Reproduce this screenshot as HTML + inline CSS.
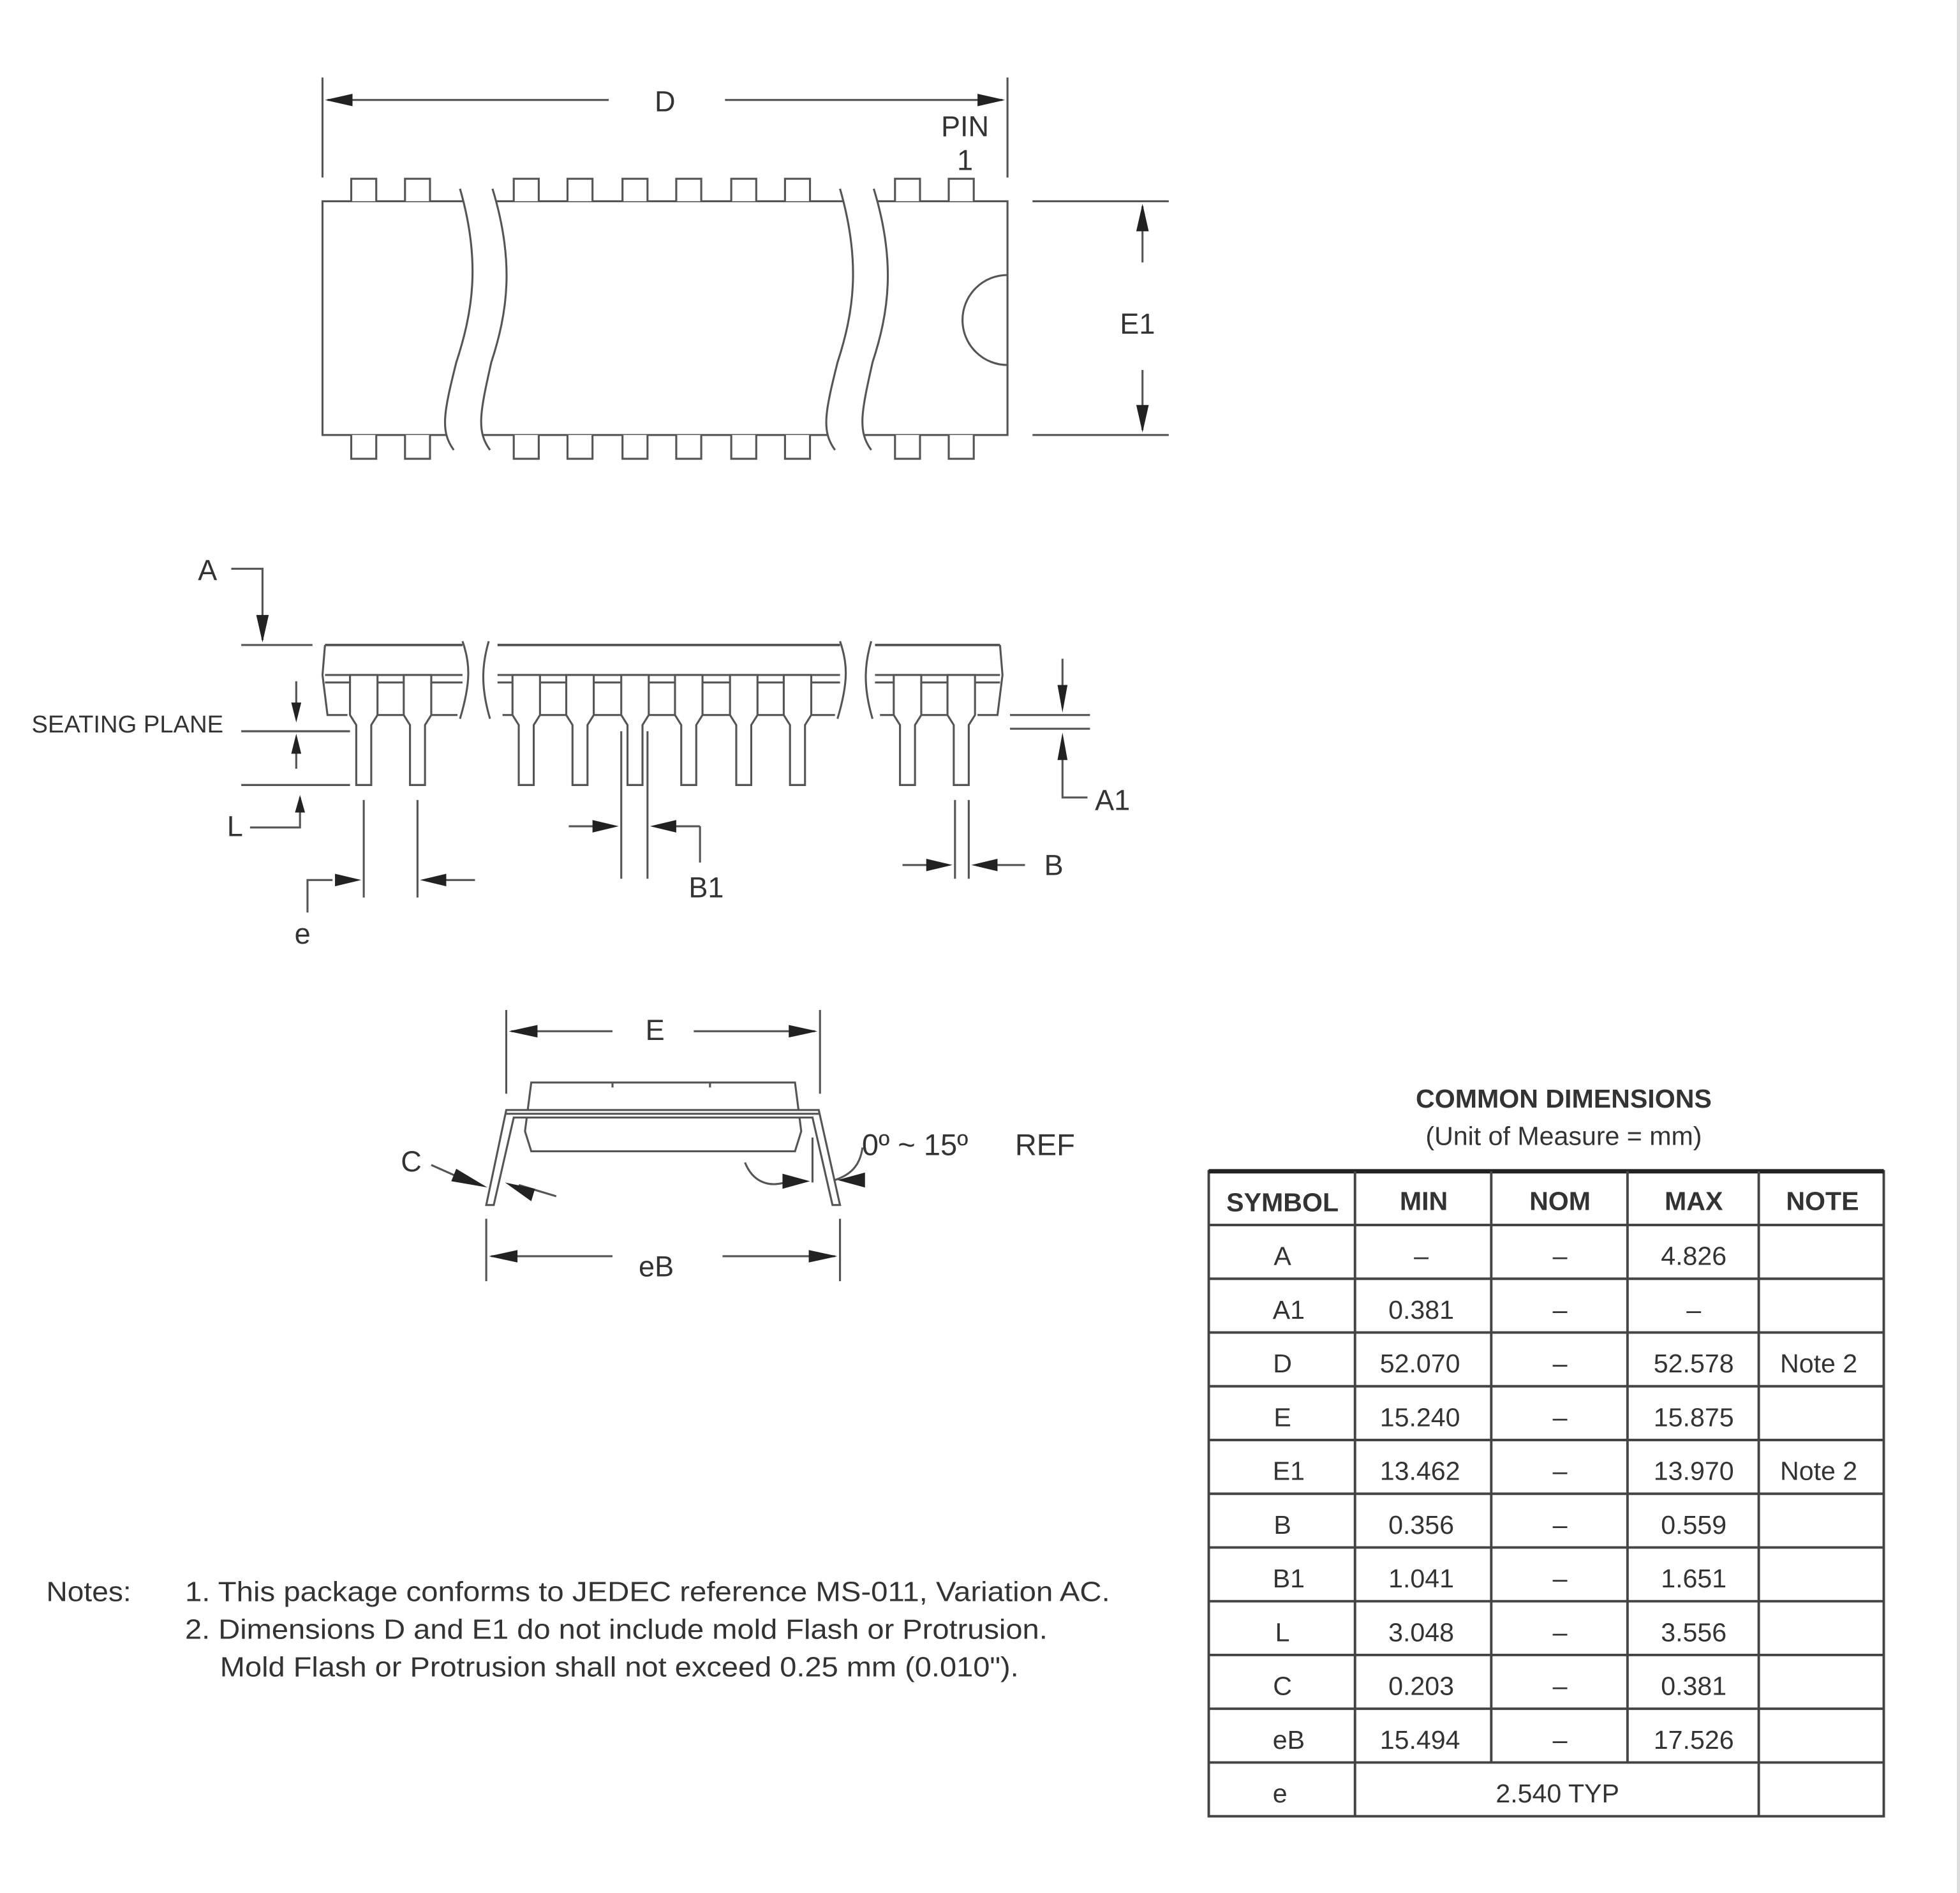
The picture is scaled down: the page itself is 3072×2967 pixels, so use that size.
<!DOCTYPE html>
<html><head><meta charset="utf-8"><style>
html,body{margin:0;padding:0;background:#fff;}
svg{display:block;}
text{font-family:"Liberation Sans",Arial,sans-serif;fill:#333;}
</style></head><body>
<svg width="3072" height="2967" viewBox="0 0 1568 1514.4" xmlns="http://www.w3.org/2000/svg">
<rect x="0" y="0" width="1568" height="1514.4" fill="#fff"/>
<rect x="1565.5" y="0" width="2.5" height="1514.4" fill="#ddd"/>
<g stroke="#555" stroke-width="1.6" fill="none">
<rect x="258" y="161" width="548" height="187" fill="#fff"/>
<g fill="#fff">
<path d="M281 161V143H301V161M324 161V143H344V161M411 161V143H431V161M454 161V143H474V161M498 161V143H518V161M541 161V143H561V161M585 161V143H605V161M628 161V143H648V161M716 161V143H736V161M759 161V143H779V161"/>
<path d="M281 348V367H301V348M324 348V367H344V348M411 348V367H431V348M454 348V367H474V348M498 348V367H518V348M541 348V367H561V348M585 348V367H605V348M628 348V367H648V348M716 348V367H736V348M759 348V367H779V348"/>
</g>
<path d="M368 151 C385 210,378 250,365 290 C355 330,352 345,363 360 L392 360 C381 345,384 330,393 290 C406 250,412 210,394 151 Z" fill="#fff" stroke="none"/>
<path d="M368 151 C385 210,378 250,365 290 C355 330,352 345,363 360"/>
<path d="M394 151 C412 210,406 250,393 290 C384 330,381 345,392 360"/>
<path d="M672 151 C689 210,683 250,670 290 C660 330,657 345,668 360 L697 360 C686 345,689 330,698 290 C711 250,717 210,699 151 Z" fill="#fff" stroke="none"/>
<path d="M672 151 C689 210,683 250,670 290 C660 330,657 345,668 360"/>
<path d="M699 151 C717 210,711 250,698 290 C689 330,686 345,697 360"/>
<path d="M806 220 A36 36 0 0 0 806 292"/>
<path d="M258 62V142M806 62V142M262 80H487M580 80H802"/>
<path d="M826 161H935M826 348H935M914 165V210M914 296V344"/>
<path d="M260 516H370M398 516H672M700 516H800" stroke-width="2"/>
<path d="M260 540H370M398 540H672M700 540H800M260 546H370M398 546H672M700 546H800"/>
<path d="M260 516L258 540L262 572H278M800 516L802 540L798 572H782"/>
<path d="M302 572H323M345 572H366M402 572H410M432 572H453M475 572H497M519 572H540M562 572H584M606 572H627M649 572H668M704 572H715M737 572H758"/>
<path d="M370 513 C376 530,377 545,368 575M391 513 C386 530,384 548,392 575"/>
<path d="M672 513 C678 530,679 545,670 575M697 513 C692 530,690 548,698 575"/>
<g fill="#fff">
<path d="M280 540V572L285 580V628H297V580L302 572V540Z"/>
<path d="M323 540V572L328 580V628H340V580L345 572V540Z"/>
<path d="M410 540V572L415 580V628H427V580L432 572V540Z"/>
<path d="M453 540V572L458 580V628H470V580L475 572V540Z"/>
<path d="M497 540V572L502 580V628H514V580L519 572V540Z"/>
<path d="M540 540V572L545 580V628H557V580L562 572V540Z"/>
<path d="M584 540V572L589 580V628H601V580L606 572V540Z"/>
<path d="M627 540V572L632 580V628H644V580L649 572V540Z"/>
<path d="M715 540V572L720 580V628H732V580L737 572V540Z"/>
<path d="M758 540V572L763 580V628H775V580L780 572V540Z"/>
</g>
<path d="M193 516H250M193 585H280M193 628H280"/>
<path d="M185 455H210V512"/>
<path d="M237 545V574M237 596V615"/>
<path d="M200 662H240V638"/>
<path d="M291 640V718M334 640V718M246 730V704H266M380 704H340"/>
<path d="M497 585V703M518 585V703M455 661H490M560 661V690M560 661H528"/>
<path d="M764 640V703M775 640V703M722 692H758M820 692H781"/>
<path d="M808 572H872M808 583H872M850 527V566M850 592V638H870"/>
<path d="M405 808V875M656 808V875M409 825H490M555 825H652"/>
<path d="M425 866H636L641 905L636 921H425L420 905Z" fill="#fff"/>
<path d="M490 866V870M568 866V870"/>
<path d="M405 888H655L672 964H666L650 894H411L395 964H389Z" fill="#fff"/>
<path d="M405 891H655"/>
<path d="M389 975V1025M672 975V1025M393 1005H490M578 1005H668"/>
<path d="M345 932L372 944M445 957L415 948"/>
<path d="M596 930 C602 945,614 950,628 946M690 918 C688 933,680 940,668 944M650 910V946"/>
<rect x="967" y="937" width="540" height="516" stroke="#444" stroke-width="2"/>
<path d="M967 937H1507" stroke="#222" stroke-width="3.5"/>
<path d="M967 980H1507M967 1023H1507M967 1066H1507M967 1109H1507M967 1152H1507M967 1195H1507M967 1238H1507M967 1281H1507M967 1324H1507M967 1367H1507M967 1410H1507" stroke="#444" stroke-width="2"/>
<path d="M1084 937V1453M1407 937V1453M1193 937V1410M1302 937V1410" stroke="#444" stroke-width="2"/>
</g>
<g fill="#222">
<path d="M260 80L282 75L282 85Z"/>
<path d="M804 80L782 75L782 85Z"/>
<path d="M914 163L909 185L919 185Z"/>
<path d="M914 346L909 324L919 324Z"/>
<path d="M210 514L205 492L215 492Z"/>
<path d="M237 578L233 562L241 562Z"/>
<path d="M237 587L233 603L241 603Z"/>
<path d="M240 636L236 650L244 650Z"/>
<path d="M289 704L268 699L268 709Z"/>
<path d="M336 704L357 699L357 709Z"/>
<path d="M495 661L474 656L474 666Z"/>
<path d="M520 661L541 656L541 666Z"/>
<path d="M762 692L741 687L741 697Z"/>
<path d="M777 692L798 687L798 697Z"/>
<path d="M850 570L846 548L854 548Z"/>
<path d="M850 586L846 608L854 608Z"/>
<path d="M407 825L430 820L430 830Z"/>
<path d="M654 825L631 820L631 830Z"/>
<path d="M391 1005L414 1000L414 1010Z"/>
<path d="M670 1005L647 1000L647 1010Z"/>
<path d="M390 950L365 935L361 945Z"/>
<path d="M404 946L428 951L425 961Z"/>
<path d="M648 945L626 939L626 951Z"/>
<path d="M670 944L692 938L692 950Z"/>
</g>
<g font-size="23" text-anchor="middle">
<text x="532" y="89">D</text>
<text x="772" y="109">PIN</text>
<text x="772" y="136">1</text>
<text x="910" y="267">E1</text>
<text x="166" y="464">A</text>
<text x="102" y="586" font-size="19.5">SEATING PLANE</text>
<text x="188" y="669">L</text>
<text x="242" y="755">e</text>
<text x="565" y="718">B1</text>
<text x="843" y="700">B</text>
<text x="890" y="648">A1</text>
<text x="524" y="832">E</text>
<text x="525" y="1021">eB</text>
<text x="329" y="937">C</text>
<text x="732" y="924" font-size="24">0º ~ 15º</text>
<text x="836" y="924" font-size="24">REF</text>
</g>
<g font-size="22">
<text x="37" y="1281" textLength="68" lengthAdjust="spacingAndGlyphs">Notes:</text>
<text x="148" y="1281" textLength="740" lengthAdjust="spacingAndGlyphs">1. This package conforms to JEDEC reference MS-011, Variation AC.</text>
<text x="148" y="1311" textLength="690" lengthAdjust="spacingAndGlyphs">2. Dimensions D and E1 do not include mold Flash or Protrusion.</text>
<text x="176" y="1341" textLength="639" lengthAdjust="spacingAndGlyphs">Mold Flash or Protrusion shall not exceed 0.25 mm (0.010").</text>
</g>
<g text-anchor="middle" font-size="21">
<text x="1251" y="886" font-weight="bold" fill="#222">COMMON DIMENSIONS</text>
<text x="1251" y="916">(Unit of Measure = mm)</text>
<g font-weight="bold" fill="#222">
<text x="1026" y="969">SYMBOL</text><text x="1139" y="968">MIN</text><text x="1248" y="968">NOM</text><text x="1355" y="968">MAX</text><text x="1458" y="968">NOTE</text>
</g>
<text x="1026" y="1012">A</text><text x="1137" y="1012">–</text><text x="1248" y="1012">–</text><text x="1355" y="1012">4.826</text>
<text x="1031" y="1055">A1</text><text x="1137" y="1055">0.381</text><text x="1248" y="1055">–</text><text x="1355" y="1055">–</text>
<text x="1026" y="1098">D</text><text x="1136" y="1098">52.070</text><text x="1248" y="1098">–</text><text x="1355" y="1098">52.578</text><text x="1455" y="1098">Note 2</text>
<text x="1026" y="1141">E</text><text x="1136" y="1141">15.240</text><text x="1248" y="1141">–</text><text x="1355" y="1141">15.875</text>
<text x="1031" y="1184">E1</text><text x="1136" y="1184">13.462</text><text x="1248" y="1184">–</text><text x="1355" y="1184">13.970</text><text x="1455" y="1184">Note 2</text>
<text x="1026" y="1227">B</text><text x="1137" y="1227">0.356</text><text x="1248" y="1227">–</text><text x="1355" y="1227">0.559</text>
<text x="1031" y="1270">B1</text><text x="1137" y="1270">1.041</text><text x="1248" y="1270">–</text><text x="1355" y="1270">1.651</text>
<text x="1026" y="1313">L</text><text x="1137" y="1313">3.048</text><text x="1248" y="1313">–</text><text x="1355" y="1313">3.556</text>
<text x="1026" y="1356">C</text><text x="1137" y="1356">0.203</text><text x="1248" y="1356">–</text><text x="1355" y="1356">0.381</text>
<text x="1031" y="1399">eB</text><text x="1136" y="1399">15.494</text><text x="1248" y="1399">–</text><text x="1355" y="1399">17.526</text>
<text x="1024" y="1442">e</text><text x="1246" y="1442">2.540 TYP</text>
</g>
</svg>
</body></html>
